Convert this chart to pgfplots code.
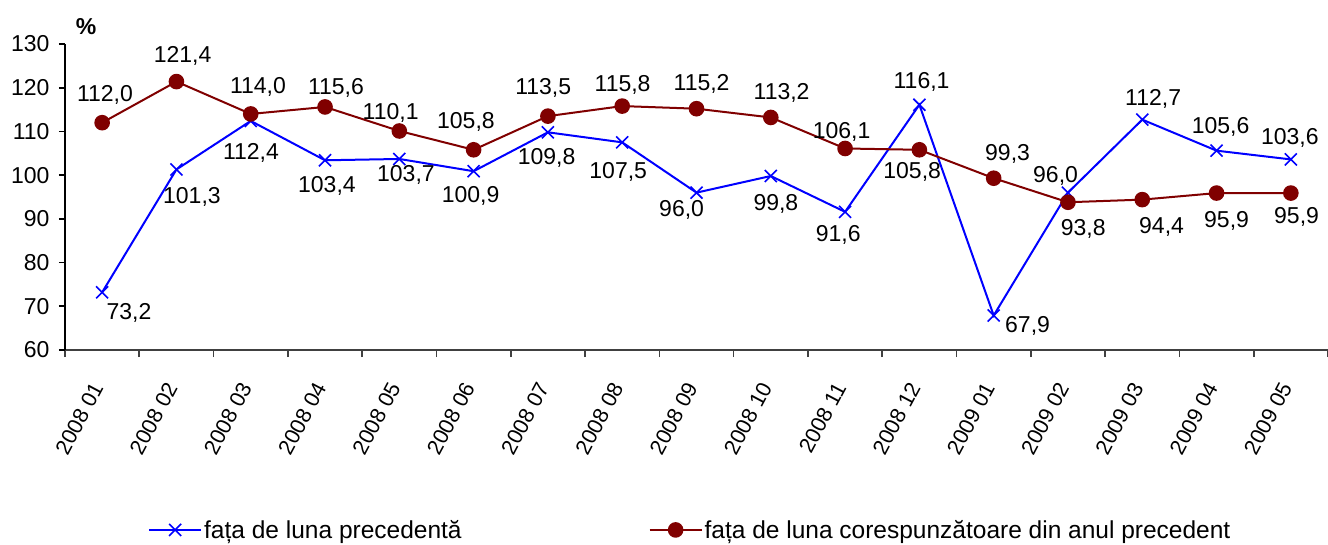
\documentclass[border=0pt]{standalone}
\usepackage{fontspec}
\setmainfont{Liberation Sans}
\usepackage{pgfplots}
\usepackage{pgfplotstable}
\pgfplotsset{compat=1.18}

\definecolor{serblue}{RGB}{0,0,255}
\definecolor{serred}{RGB}{128,0,0}

\pgfplotstableread{
x y lab dx dy
0 73.2 73,2 26.8 -20.7
1 101.3 101,3 15.5 -27.5
2 112.4 112,4 0.2 -32
3 103.4 103,4 1.9 -25.7
4 103.7 103,7 6.6 -16
5 100.9 100,9 -3 -24.8
6 109.8 109,8 -1.3 -25.7
7 107.5 107,5 -4 -29.3
8 96.0 96,0 -14.9 -17.4
9 99.8 99,8 5.1 -28
10 91.6 91,6 -6.9 -23.1
11 116.1 116,1 2.2 22.5
12 67.9 67,9 33.9 -10.2
13 96.0 96,0 -12.4 16.9
14 112.7 112,7 10.9 20.6
15 105.6 105,6 4 23.4
16 103.6 103,6 -1 21.1
}\bluedata

\pgfplotstableread{
x y lab dx dy
0 112.0 112,0 2.8 27.7
1 121.4 121,4 6.2 25.6
2 114.0 114,0 7.2 26.7
3 115.6 115,6 10.9 18.7
4 110.1 110,1 -8.7 18.3
5 105.8 105,8 -7.7 28.1
6 113.5 113,5 -4.7 27.9
7 115.8 115,8 0.4 21.1
8 115.2 115,2 5.1 24.7
9 113.2 113,2 10.8 24.8
10 106.1 106,1 -3.5 16.8
11 105.8 105,8 -7.2 -21.9
12 99.3 99,3 13.9 24.2
13 93.8 93,8 15.2 -27
14 94.4 94,4 19.3 -27.1
15 95.9 95,9 10 -27.6
16 95.9 95,9 5.7 -23.6
}\reddata

\newcommand{\lblfont}{\fontsize{23}{27}\selectfont}
\newcommand{\xlblfont}{\fontsize{21.5}{25}\selectfont}
\newcommand{\legfont}{\fontsize{24.5}{28}\selectfont}

\begin{document}
\begin{tikzpicture}
\useasboundingbox (0,0) rectangle (1328pt,544pt);
\begin{axis}[
  at={(65pt,194pt)}, anchor=south west,
  scale only axis, width=1263pt, height=306pt,
  xmin=-0.5, xmax=16.5, ymin=60, ymax=130,
  axis x line*=bottom, axis y line*=left,
  x axis line style={black!75, line width=1.6pt},
  y axis line style={black, line width=1.6pt},
  xtick={0,...,16},
  xticklabels={2008 01,2008 02,2008 03,2008 04,2008 05,2008 06,2008 07,2008 08,2008 09,2008 10,2008 11,2008 12,2009 01,2009 02,2009 03,2009 04,2009 05},
  major x tick style={draw=none},
  minor xtick={-0.5,0.5,...,16.5},
  minor x tick style={black!75, line width=1.6pt},
  ytick={60,70,...,130},
  major y tick style={black, line width=1.6pt},
  tick align=outside, major tick length=6pt, minor tick length=7pt,
  ticklabel style={font=\lblfont},
  yticklabel style={xshift=-6pt},
  xticklabel style={font=\xlblfont, yshift=-25pt, xshift=-3pt, rotate=62, anchor=east},
  /pgf/number format/assume math mode=true,
  clip=false,
  legend style={at={(axis description cs:0.0657,-0.588)}, anchor=west, draw=none, fill=none,
     legend columns=2, font=\legfont, inner sep=0pt,
     /tikz/every even column/.append style={column sep=185pt}},
  legend image code/.code={\draw[mark repeat=2,mark phase=2,#1] plot coordinates {(0pt,0pt) (26pt,0pt) (52pt,0pt)};},
]
\addplot[serblue, line width=2pt, mark=x, mark size=8.5pt, mark options={line width=1.6pt},
  nodes near coords, point meta=explicit symbolic,
  visualization depends on={\thisrow{dx}\as\dx},
  visualization depends on={\thisrow{dy}\as\dy},
  nodes near coords style={anchor=center, xshift=\dx pt, yshift=\dy pt, text=black, font=\lblfont}]
  table[x=x, y=y, meta=lab]{\bluedata};
\addlegendentry{fața de luna precedentă}
\addplot[serred, line width=2pt, mark=*, mark size=6.8pt, mark options={fill=serred},
  nodes near coords, point meta=explicit symbolic,
  visualization depends on={\thisrow{dx}\as\dx},
  visualization depends on={\thisrow{dy}\as\dy},
  nodes near coords style={anchor=center, xshift=\dx pt, yshift=\dy pt, text=black, font=\lblfont}]
  table[x=x, y=y, meta=lab]{\reddata};
\addlegendentry{fața de luna corespunzătoare din anul precedent}
\node[font=\lblfont\bfseries] at (rel axis cs:0,1) [xshift=21pt, yshift=17pt] {\%};
\end{axis}
\end{tikzpicture}
\end{document}
